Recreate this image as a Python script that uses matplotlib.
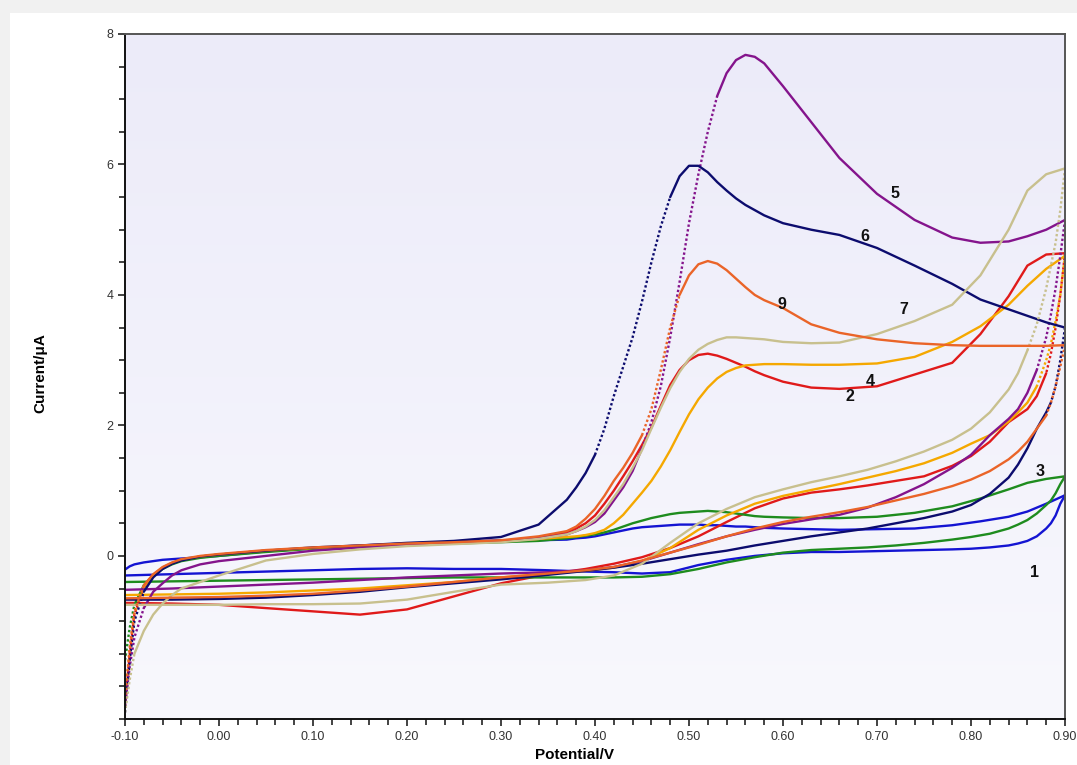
import numpy as np
import matplotlib
matplotlib.use('Agg')
import matplotlib.pyplot as plt
from matplotlib.patches import Rectangle
from matplotlib.ticker import MultipleLocator, FixedLocator, FormatStrFormatter
from matplotlib.colors import LinearSegmentedColormap

plt.rcParams['font.family'] = ['Liberation Sans', 'DejaVu Sans']

# forward scan potentials (V)
E_fwd = [-0.100, -0.095, -0.090, -0.080, -0.070, -0.060, -0.050, -0.040, -0.020, 0.000,
         0.050, 0.100, 0.150, 0.200, 0.250, 0.300, 0.340, 0.370,
         0.380, 0.390, 0.400, 0.410, 0.420, 0.430, 0.440, 0.450, 0.460, 0.470, 0.480,
         0.490, 0.500, 0.510, 0.520, 0.530, 0.540, 0.550, 0.560, 0.570, 0.580,
         0.600, 0.630, 0.660, 0.700, 0.740, 0.780, 0.810, 0.840, 0.860, 0.880, 0.900]
# reverse scan potentials (V)
E_rev = [0.900, 0.895, 0.890, 0.885, 0.880, 0.870, 0.860, 0.850, 0.840, 0.820,
         0.800, 0.780, 0.750, 0.720, 0.690, 0.660, 0.630, 0.600, 0.570, 0.540,
         0.510, 0.480, 0.450, 0.420, 0.390, 0.350, 0.300, 0.250, 0.200, 0.150,
         0.100, 0.050, 0.000, -0.050, -0.100]

# currents (uA), forward branch
fwd1 = [-0.21, -0.16, -0.13, -0.10, -0.08, -0.06, -0.05, -0.04, -0.02, 0.00,
        0.07, 0.12, 0.16, 0.19, 0.21, 0.24, 0.24, 0.25,
        0.27, 0.28, 0.30, 0.33, 0.36, 0.39, 0.42, 0.44, 0.45, 0.46, 0.47,
        0.48, 0.48, 0.48, 0.47, 0.47, 0.46, 0.45, 0.45, 0.44, 0.43,
        0.42, 0.41, 0.40, 0.41, 0.42, 0.47, 0.53, 0.60, 0.68, 0.80, 0.93]
fwd2 = [-2.30, -1.50, -0.90, -0.48, -0.30, -0.18, -0.11, -0.06, -0.01, 0.02,
        0.08, 0.12, 0.15, 0.18, 0.20, 0.23, 0.28, 0.36,
        0.42, 0.50, 0.62, 0.80, 1.00, 1.22, 1.45, 1.70, 1.97, 2.30, 2.62,
        2.85, 3.00, 3.08, 3.10, 3.07, 3.02, 2.96, 2.90, 2.83, 2.77,
        2.67, 2.58, 2.56, 2.60, 2.78, 2.96, 3.40, 3.98, 4.45, 4.62, 4.64]
fwd3 = [-1.60, -1.10, -0.75, -0.45, -0.30, -0.20, -0.13, -0.08, -0.03, 0.00,
        0.06, 0.11, 0.14, 0.17, 0.19, 0.21, 0.23, 0.27,
        0.29, 0.31, 0.33, 0.36, 0.40, 0.45, 0.50, 0.54, 0.58, 0.61, 0.64,
        0.66, 0.67, 0.68, 0.69, 0.68, 0.67, 0.65, 0.63, 0.61, 0.60,
        0.59, 0.58, 0.58, 0.60, 0.66, 0.76, 0.88, 1.02, 1.12, 1.18, 1.22]
fwd4 = [-2.20, -1.45, -0.88, -0.47, -0.29, -0.18, -0.11, -0.06, -0.01, 0.02,
        0.08, 0.12, 0.15, 0.18, 0.20, 0.23, 0.26, 0.29,
        0.30, 0.32, 0.35, 0.40, 0.50, 0.63, 0.80, 0.97, 1.15, 1.37, 1.62,
        1.90, 2.17, 2.40, 2.58, 2.72, 2.82, 2.88, 2.92, 2.93, 2.94,
        2.94, 2.93, 2.93, 2.95, 3.05, 3.28, 3.52, 3.85, 4.14, 4.40, 4.60]
fwd5 = [-2.30, -1.70, -1.25, -0.80, -0.55, -0.42, -0.30, -0.22, -0.13, -0.08,
        0.00, 0.08, 0.13, 0.17, 0.20, 0.22, 0.27, 0.33,
        0.38, 0.44, 0.52, 0.65, 0.85, 1.05, 1.30, 1.65, 2.05, 2.60, 3.35,
        4.20, 5.10, 5.85, 6.50, 7.05, 7.40, 7.60, 7.68, 7.65, 7.55,
        7.20, 6.65, 6.10, 5.55, 5.15, 4.88, 4.80, 4.82, 4.90, 5.00, 5.15]
fwd6 = [-2.40, -1.60, -1.00, -0.55, -0.33, -0.20, -0.12, -0.07, -0.01, 0.02,
        0.08, 0.13, 0.16, 0.20, 0.23, 0.29, 0.48, 0.86,
        1.05, 1.27, 1.55, 1.95, 2.45, 2.90, 3.35, 3.90, 4.50, 5.05, 5.50,
        5.82, 5.98, 5.98, 5.88, 5.73, 5.60, 5.48, 5.38, 5.30, 5.22,
        5.10, 5.00, 4.92, 4.72, 4.45, 4.17, 3.93, 3.78, 3.68, 3.58, 3.50]
fwd7 = [-2.40, -1.90, -1.50, -1.15, -0.90, -0.73, -0.60, -0.50, -0.40, -0.30,
        -0.07, 0.03, 0.10, 0.15, 0.18, 0.21, 0.26, 0.33,
        0.38, 0.45, 0.55, 0.70, 0.90, 1.10, 1.35, 1.62, 1.95, 2.27, 2.57,
        2.82, 3.02, 3.16, 3.25, 3.31, 3.35, 3.35, 3.34, 3.33, 3.32,
        3.28, 3.26, 3.27, 3.40, 3.60, 3.85, 4.30, 5.00, 5.60, 5.85, 5.94]
fwd9 = [-2.20, -1.40, -0.85, -0.45, -0.28, -0.17, -0.10, -0.05, 0.00, 0.03,
        0.09, 0.13, 0.16, 0.19, 0.21, 0.24, 0.30, 0.38,
        0.45, 0.57, 0.72, 0.92, 1.15, 1.35, 1.58, 1.85, 2.25, 2.85, 3.50,
        4.00, 4.30, 4.47, 4.52, 4.48, 4.38, 4.25, 4.12, 4.00, 3.92,
        3.80, 3.55, 3.42, 3.32, 3.26, 3.23, 3.22, 3.22, 3.22, 3.22, 3.23]

# currents (uA), reverse branch
rev1 = [0.93, 0.80, 0.62, 0.50, 0.42, 0.30, 0.23, 0.19, 0.16, 0.13,
        0.11, 0.10, 0.09, 0.08, 0.07, 0.06, 0.06, 0.04, 0.00, -0.06,
        -0.14, -0.25, -0.27, -0.25, -0.24, -0.22, -0.20, -0.20, -0.19, -0.20,
        -0.22, -0.24, -0.26, -0.28, -0.30]
rev2 = [4.64, 4.00, 3.50, 3.10, 2.80, 2.45, 2.25, 2.15, 2.05, 1.75,
        1.53, 1.38, 1.22, 1.15, 1.08, 1.02, 0.97, 0.88, 0.73, 0.52,
        0.30, 0.12, -0.02, -0.12, -0.20, -0.28, -0.42, -0.62, -0.82, -0.90,
        -0.85, -0.80, -0.75, -0.73, -0.72]
rev3 = [1.22, 1.10, 0.96, 0.85, 0.78, 0.65, 0.55, 0.48, 0.42, 0.34,
        0.29, 0.25, 0.20, 0.16, 0.13, 0.11, 0.09, 0.05, -0.02, -0.10,
        -0.20, -0.28, -0.32, -0.33, -0.33, -0.33, -0.33, -0.33, -0.34, -0.35,
        -0.36, -0.37, -0.38, -0.39, -0.40]
rev4 = [4.60, 4.00, 3.60, 3.25, 3.00, 2.60, 2.35, 2.20, 2.06, 1.85,
        1.72, 1.58, 1.42, 1.30, 1.20, 1.10, 1.01, 0.92, 0.80, 0.62,
        0.40, 0.12, -0.08, -0.18, -0.23, -0.27, -0.33, -0.40, -0.45, -0.50,
        -0.53, -0.56, -0.58, -0.59, -0.60]
rev5 = [5.15, 4.60, 4.10, 3.70, 3.35, 2.85, 2.50, 2.25, 2.10, 1.85,
        1.55, 1.35, 1.10, 0.90, 0.74, 0.63, 0.56, 0.49, 0.40, 0.30,
        0.18, 0.05, -0.08, -0.17, -0.22, -0.25, -0.27, -0.30, -0.33, -0.37,
        -0.41, -0.44, -0.47, -0.50, -0.52]
rev6 = [3.50, 3.00, 2.60, 2.35, 2.20, 1.95, 1.65, 1.40, 1.20, 0.95,
        0.78, 0.68, 0.58, 0.50, 0.42, 0.36, 0.30, 0.23, 0.16, 0.08,
        0.02, -0.05, -0.12, -0.18, -0.23, -0.29, -0.36, -0.42, -0.48, -0.55,
        -0.60, -0.64, -0.66, -0.67, -0.67]
rev7 = [5.94, 5.30, 4.80, 4.45, 4.10, 3.55, 3.15, 2.80, 2.55, 2.20,
        1.95, 1.78, 1.60, 1.45, 1.32, 1.22, 1.13, 1.02, 0.90, 0.72,
        0.50, 0.20, -0.12, -0.30, -0.37, -0.41, -0.44, -0.55, -0.67, -0.73,
        -0.74, -0.74, -0.75, -0.75, -0.75]
rev9 = [3.23, 2.90, 2.60, 2.35, 2.15, 1.95, 1.75, 1.60, 1.48, 1.30,
        1.17, 1.07, 0.95, 0.85, 0.75, 0.67, 0.60, 0.52, 0.42, 0.30,
        0.17, 0.05, -0.07, -0.17, -0.22, -0.27, -0.33, -0.40, -0.47, -0.53,
        -0.58, -0.61, -0.63, -0.64, -0.65]

names = ['1', '2', '3', '4', '5', '6', '7', '9']
fwd = [fwd1, fwd2, fwd3, fwd4, fwd5, fwd6, fwd7, fwd9]
rev = [rev1, rev2, rev3, rev4, rev5, rev6, rev7, rev9]
colors = ['#1414d2', '#e01a1a', '#1e8c1e', '#f5a800', '#84148c', '#0c0c6e', '#c8c08e', '#ea6428']

# curve number label positions (V, uA)
lab_x = [0.868, 0.671, 0.873, 0.693, 0.719, 0.687, 0.728, 0.599]
lab_y = [-0.25, 2.44, 1.29, 2.67, 5.56, 4.89, 3.77, 3.85]


def draw_branch(ax, e, i, color, steep=36.0):
    # sparse samples on the steep parts show up as dots in the instrument plot
    e = np.asarray(e)
    i = np.asarray(i)
    slope = np.abs(np.diff(i) / np.diff(e))
    is_steep = slope > steep
    start = 0
    for n in range(1, len(slope) + 1):
        if n == len(slope) or is_steep[n] != is_steep[start]:
            ls = (0, (1, 1.0)) if is_steep[start] else '-'
            ax.plot(e[start:n + 1], i[start:n + 1], color=color, lw=1.7,
                    ls=ls, zorder=2, solid_capstyle='round')
            start = n


fig = plt.figure(figsize=(10.77, 7.65), dpi=100)
fig.patch.set_facecolor('#f1f1f1')
fig.add_artist(Rectangle((10 / 1077, 0), 1, 1 - 13 / 765, transform=fig.transFigure,
                         facecolor='white', edgecolor='none', zorder=-5))

ax = fig.add_axes([125 / 1077, 1 - 719 / 765, 940 / 1077, 685 / 765])
ax.set_facecolor('none')

# light lavender gradient background
grad = np.linspace(0, 1, 256).reshape(-1, 1)
cmap = LinearSegmentedColormap.from_list('bg', ['#f8f8fd', '#ecebf9'])
ax.imshow(grad, extent=[0, 1, 0, 1], transform=ax.transAxes, cmap=cmap,
          aspect='auto', origin='lower', zorder=0)

for k in range(len(names)):
    draw_branch(ax, E_fwd, fwd[k], colors[k])
    draw_branch(ax, E_rev, rev[k], colors[k])
    ax.text(lab_x[k], lab_y[k], names[k], fontsize=11.5, fontweight='bold',
            ha='center', va='center', color='#111111', zorder=3)

ax.set_xlim(-0.10, 0.90)
ax.set_ylim(-2.5, 8)
ax.xaxis.set_major_locator(MultipleLocator(0.1))
ax.xaxis.set_minor_locator(MultipleLocator(0.02))
ax.xaxis.set_major_formatter(FormatStrFormatter('%.2f'))
ax.yaxis.set_major_locator(FixedLocator([0, 2, 4, 6, 8]))
ax.yaxis.set_minor_locator(MultipleLocator(0.5))
ax.tick_params(which='both', direction='out', length=5, width=1.2, colors='#222222',
               labelsize=9, labelcolor='#333333')
ax.tick_params(which='minor', length=4)
for s in ['left', 'bottom']:
    ax.spines[s].set_color('#111111')
    ax.spines[s].set_linewidth(1.4)
for s in ['top', 'right']:
    ax.spines[s].set_color('#555555')
    ax.spines[s].set_linewidth(1.4)

fig.text(575 / 1077, 1 - 755 / 765, 'Potential/V', fontsize=11, fontweight='bold',
         ha='center', va='center')
fig.text(40 / 1077, 1 - 373 / 765, 'Current/\u03bcA', fontsize=11, fontweight='bold',
         ha='center', va='center', rotation=90)

fig.savefig('out.png', dpi=100)
